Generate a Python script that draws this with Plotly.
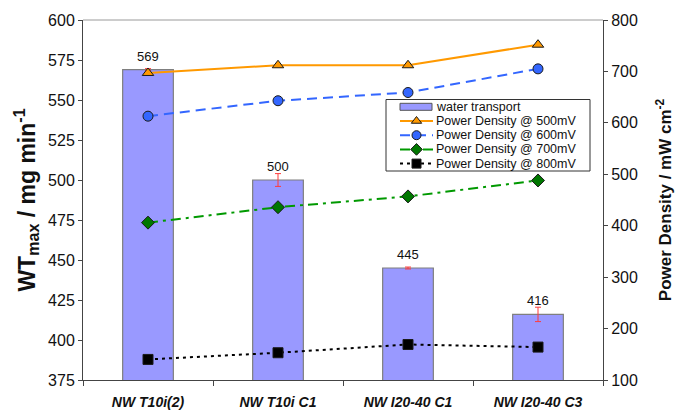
import plotly.graph_objects as go

# Samples and measured values
categories = ["NW T10i(2)", "NW T10i C1", "NW I20-40 C1", "NW I20-40 C3"]
water_transport = [569, 500, 445, 416]          # WTmax, mg/min
water_transport_err = [0.6, 4.0, 0.6, 4.5]
pd_500mv = [697, 712, 712, 752]                 # mW/cm2
pd_600mv = [613, 643, 659, 705]
pd_700mv = [406, 436, 457, 488]
pd_800mv = [140, 153, 169, 164]

left_ticks = [375, 400, 425, 450, 475, 500, 525, 550, 575, 600]
right_ticks = [100, 200, 300, 400, 500, 600, 700, 800]

FONT = "Liberation Sans, Arial, sans-serif"
TXT = "#111111"

BAR_FILL = "#9999FF"
BAR_EDGE = "#7F7F7F"

series = [
    # values, name, line colour, dash, marker symbol, marker colour, size
    (pd_500mv, "Power Density @ 500mV", "#FF9900", "solid", "triangle-up", "#FF9900", 10),
    (pd_600mv, "Power Density @ 600mV", "#3366FF", "10px,6px", "circle", "#3366FF", 10),
    (pd_700mv, "Power Density @ 700mV", "#009900", "10px,5px,3px,5px", "diamond", "#007700", 10),
    (pd_800mv, "Power Density @ 800mV", "#000000", "3px,4px", "square", "#000000", 10),
]

fig = go.Figure()

fig.add_trace(go.Bar(
    x=categories, y=water_transport, name="water transport",
    marker=dict(color=BAR_FILL, line=dict(color=BAR_EDGE, width=1.2)),
    error_y=dict(type="data", array=water_transport_err, color="#FF3B3B",
                 thickness=1, width=3),
    width=0.39, showlegend=False,
))

for vals, name, lc, dash, sym, mc, size in series:
    fig.add_trace(go.Scatter(
        x=categories, y=vals, name=name, yaxis="y2", mode="lines+markers",
        line=dict(color=lc, width=2, dash=dash),
        marker=dict(symbol=sym, size=size, color=mc,
                    line=dict(color="#1a1a1a", width=1)),
        showlegend=False,
    ))

# value labels above the bars
for c, v in zip(categories, water_transport):
    fig.add_annotation(x=c, y=v, text=str(v), showarrow=False,
                       yanchor="bottom", yshift=4,
                       font=dict(family=FONT, size=13, color=TXT))

# ---- compact legend box (pixel frame of the plot area: x 83..603, y 20..380)
LEG_X0, LEG_X1, LEG_Y0, LEG_Y1 = 386, 590, 99.5, 171
row_y = [106.8, 121.0, 135.2, 149.4, 163.6]
LEG_FONT = 12.5
sw_x0, sw_x1, txt_x = 400, 433, 435
sw_mid = (sw_x0 + sw_x1) / 2

fig.add_shape(type="rect", xref="x3", yref="y3", layer="below",
              x0=LEG_X0, x1=LEG_X1, y0=LEG_Y0, y1=LEG_Y1,
              fillcolor="white", line=dict(color="#333333", width=1))
fig.add_shape(type="rect", xref="x3", yref="y3", layer="below",
              x0=sw_x0, x1=sw_x1 - 1, y0=row_y[0] - 3.5, y1=row_y[0] + 3.5,
              fillcolor=BAR_FILL, line=dict(color="#555555", width=1))
fig.add_annotation(xref="x3", yref="y3", x=txt_x, y=row_y[0], text="water transport",
                   showarrow=False, xanchor="left", yanchor="middle", borderpad=0,
                   font=dict(family=FONT, size=LEG_FONT, color=TXT))

for (vals, name, lc, dash, sym, mc, size), ry in zip(series, row_y[1:]):
    fig.add_trace(go.Scatter(
        x=[sw_x0, sw_x1], y=[ry, ry], xaxis="x3", yaxis="y3", mode="lines",
        line=dict(color=lc, width=2, dash=dash), showlegend=False, hoverinfo="skip"))
    fig.add_trace(go.Scatter(
        x=[sw_mid], y=[ry], xaxis="x3", yaxis="y3", mode="markers",
        marker=dict(symbol=sym, size=size - 1, color=mc,
                    line=dict(color="#1a1a1a", width=1)),
        showlegend=False, hoverinfo="skip"))
    fig.add_annotation(xref="x3", yref="y3", x=txt_x, y=ry, text=name,
                       showarrow=False, xanchor="left", yanchor="middle", borderpad=0,
                       font=dict(family=FONT, size=LEG_FONT, color=TXT))

fig.update_layout(
    width=678, height=410,
    margin=dict(l=83, r=75, t=20, b=30),
    paper_bgcolor="white", plot_bgcolor="white",
    font=dict(family=FONT, color=TXT),
    bargap=0.6,
    showlegend=False,
    xaxis=dict(
        showline=True, linecolor="#444444", linewidth=1,
        ticks="outside", tickson="boundaries", ticklen=5, tickcolor="#444444",
        tickfont=dict(family=FONT, size=14, color=TXT),
        tickprefix="<b><i>", ticksuffix="</i></b>",
        ticklabelstandoff=9, automargin=False,
        showgrid=False,
    ),
    yaxis=dict(
        range=[375, 600], tickvals=left_ticks,
        showline=True, linecolor="#444444", linewidth=1,
        ticks="outside", ticklen=4, tickcolor="#444444",
        tickfont=dict(family=FONT, size=16, color=TXT),
        showgrid=False, zeroline=False, automargin=False,
        title=dict(text="<b>WT<sub>max</sub> / mg min<sup>-1</sup></b>",
                   font=dict(family=FONT, size=23, color=TXT), standoff=6),
    ),
    yaxis2=dict(
        range=[100, 800], tickvals=right_ticks, overlaying="y", side="right",
        showline=True, linecolor="#444444", linewidth=1,
        ticks="outside", ticklen=4, tickcolor="#444444",
        tickfont=dict(family=FONT, size=16, color=TXT),
        showgrid=False, zeroline=False, automargin=False,
        title=dict(text="<b>Power Density / mW cm<sup>-2</sup></b>",
                   font=dict(family=FONT, size=17, color=TXT), standoff=22),
    ),
    xaxis3=dict(overlaying="x", range=[83, 603], visible=False),
    yaxis3=dict(overlaying="y", range=[380, 20], visible=False),
)

# top border of the plot area
fig.add_shape(type="line", xref="paper", yref="paper", x0=0, x1=1, y0=1, y1=1,
              line=dict(color="#9a9a9a", width=1))

fig.write_html("out.html")
